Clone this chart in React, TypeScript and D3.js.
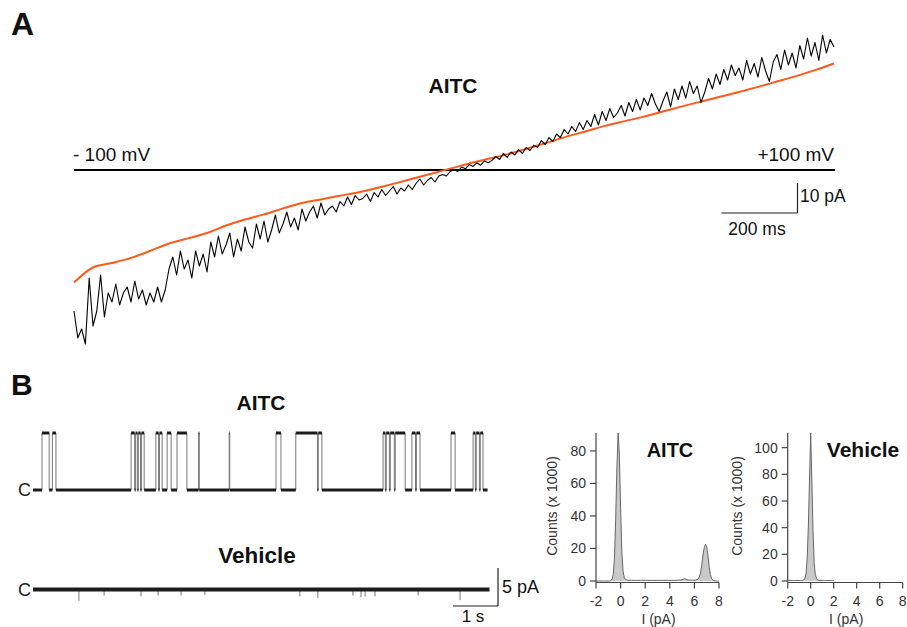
import React from "react";
import * as d3 from "d3";

// ---------- Panel A: voltage ramp (-100 to +100 mV over 2000 ms) ----------
const rampVoltage = [-100, 100];
const rampDurationMs = 2000;
// vehicle/control ramp current (pA), orange, sampled every 5 mV
const controlRampCurrent = [
  -37.5, -32.5, -31, -29.3, -27, -24.5, -22.8, -21, -18.5, -16.5,
  -14.8, -12.8, -11, -9.8, -8.6, -7.4, -5.9, -4.3, -2.6, -0.9,
  0.8, 2.5, 4.0, 5.6, 7.4, 9.3, 11.3, 13, 14.8, 16.3,
  17.8, 19.5, 21.2, 22.8, 24.4, 26, 27.7, 29.5, 31.3, 33.3, 35.5,
];
// AITC ramp current (pA), black, sampled every 1 mV from -100 to +100 mV
const aitcRampCurrent = [
  -47, -56, -53, -58, -36, -52, -47, -35, -49, -41,
  -44, -38, -45, -41, -39, -44, -37, -43, -40, -45,
  -41, -44, -39, -44, -40, -33, -29, -35, -27, -33,
  -30, -36, -27, -32, -28, -34, -24, -29, -22, -28,
  -25, -21, -29, -23, -27, -19, -24, -26, -18, -23,
  -17, -24, -20, -15, -21, -18, -14, -19, -16, -20,
  -13, -17, -14, -12, -16, -11, -15, -13, -12, -14,
  -10.5, -12, -9, -11.5, -8.5, -10, -9.5, -8, -10.5, -7.5,
  -9, -6.5, -8.5, -7, -5.5, -8, -6, -7, -5, -6.5,
  -4.5, -3, -5, -3.5, -2.5, -4, -2, -1.5, -2, -0.5,
  0.2, -0.5, 1, 0.4, 1.8, 1.2, 2.4, 1.6, 3, 2.4,
  3.2, 4.5, 3.5, 5.5, 4.2, 6, 5, 6.8, 5.5, 7.5,
  6.5, 8.2, 7.6, 9.8, 8.5, 10.8, 9.5, 12, 10.8, 13.5,
  12, 14.5, 12.8, 15.8, 13.5, 16.5, 14.5, 18.5, 15, 19.5,
  16.5, 20.5, 17.5, 19, 21.5, 18, 22.5, 19.5, 23.5, 20,
  24, 21.5, 25.5, 22, 19.5, 23, 26, 21, 27, 23.5,
  28, 24, 29.5, 25.5, 28, 22.5, 26, 30.5, 27, 32,
  28.5, 33.5, 30, 35, 31.5, 34, 30, 36.5, 32, 35.5,
  31, 37.5, 33, 29.5, 36, 38.5, 33.5, 40, 35, 39,
  34, 41.5, 37, 44, 38, 42.5, 36.5, 45, 39, 43.5,
  41,
];

// ---------- Panel B: single-channel recordings ----------
const traceDurationS = 10.1;
const openLevelPA = 7.5;
const aitcOpenIntervals: [number, number][] = [
  [0.2, 0.36], [0.43, 0.51],
  [2.18, 2.26], [2.28, 2.32], [2.34, 2.39], [2.41, 2.47],
  [2.73, 2.79], [2.81, 2.87],
  [2.98, 3.07],
  [3.2, 3.42],
  [3.68, 3.695],
  [4.36, 4.372],
  [5.4, 5.51],
  [5.84, 6.32], [6.34, 6.42],
  [7.78, 7.83], [7.85, 7.92], [7.94, 8.03], [8.05, 8.27],
  [8.42, 8.5], [8.52, 8.6],
  [9.29, 9.38],
  [9.78, 9.83], [9.85, 9.92], [9.94, 10.0],
];
const vehicleSpikeTimes = [1.02, 1.58, 2.4, 2.78, 3.29, 3.82, 5.93, 6.33, 7.11, 7.29, 7.38, 7.6, 8.56, 9.49];
const vehicleSpikeAmps = [-1.5, -0.8, -0.9, -0.8, -0.8, -0.7, -0.9, -1.1, -0.8, -1.0, -0.9, -0.9, -0.8, -1.4];

// ---------- Histograms (counts x 1000, bins of 0.1 pA starting at -2 pA) ----------
const histStart = -2;
const histBin = 0.1;
const aitcHist = [
  0, 0, 0, 0, 0, 0, 0, 0, 0, 0, 0.05,
  0.1, 0.3, 1, 4, 14, 38, 70, 91, 78,
  45, 18, 6, 2, 1, 0.6, 0.5, 0.5, 0.5, 0.5,
  0.4, 0.4, 0.4, 0.4, 0.4, 0.4, 0.4, 0.4, 0.4, 0.4,
  0.4, 0.4, 0.4, 0.4, 0.4, 0.4, 0.4, 0.4, 0.4, 0.4,
  0.4, 0.4, 0.4, 0.4, 0.4, 0.4, 0.4, 0.4, 0.4, 0.4,
  0.4, 0.4, 0.4, 0.4, 0.4, 0.4, 0.5, 0.5, 0.6, 0.6,
  0.8, 1.1, 1.4, 1.2, 0.8, 0.6, 0.5, 0.5, 0.5, 0.5,
  0.5, 0.6, 0.8, 1.2, 2.5, 5, 10, 16, 20.5, 22.5,
  21, 16, 9, 4, 1.5, 0.6, 0.2, 0.1, 0, 0,
  0,
];
const vehicleHist = [
  0.4, 0.4, 0.4, 0.4, 0.4, 0.4, 0.4, 0.4, 0.4, 0.4,
  0.4, 0.4, 0.4, 0.5, 0.8, 2, 6, 18, 42, 78,
  111, 75, 38, 14, 5, 2, 0.8, 0.5, 0.4, 0.4,
  0.4, 0.4, 0.4, 0.4, 0.4, 0.4, 0.4, 0.4, 0.4, 0.4,
  0.4,
];
const histXTicks = [-2, 0, 2, 4, 6, 8];
const aitcHistYTicks = [0, 20, 40, 60, 80];
const vehicleHistYTicks = [0, 20, 40, 60, 80, 100];

const FONT = "'Liberation Sans', Arial, Helvetica, sans-serif";

function Histogram({ data, xRange, yMax, yTop, yBottom, yTicks, title, titleX, titleSize, labelX }: any) {
  const x = d3.scaleLinear().domain([-2, 8]).range(xRange);
  const y = d3.scaleLinear().domain([0, yMax]).range([yBottom, yTop]);
  const pts = data.map((c: number, i: number) => [histStart + i * histBin, c]);
  const area = d3.area<any>().x((d) => x(d[0])).y0(y(0)).y1((d) => y(d[1]));
  const line = d3.line<any>().x((d) => x(d[0])).y((d) => y(d[1]));
  const axisY = yBottom + 1.5;
  return (
    <g>
      <path d={area(pts) || ""} fill="#c9c9c9" />
      <path d={line(pts) || ""} fill="none" stroke="#666" strokeWidth={1} />
      <line x1={xRange[0]} x2={xRange[0]} y1={yTop} y2={axisY} stroke="#444" strokeWidth={1.2} />
      <line x1={xRange[0]} x2={xRange[1]} y1={axisY} y2={axisY} stroke="#444" strokeWidth={1.2} />
      {yTicks.map((t: number) => (
        <g key={"y" + t}>
          <line x1={xRange[0] - 6} x2={xRange[0]} y1={y(t)} y2={y(t)} stroke="#444" strokeWidth={1.2} />
          <text x={xRange[0] - 10} y={y(t)} dominantBaseline="central" textAnchor="end" fontSize={14} fontFamily={FONT} fill="#333">
            {t}
          </text>
        </g>
      ))}
      {histXTicks.map((t) => (
        <g key={"x" + t}>
          <line x1={x(t)} x2={x(t)} y1={axisY} y2={axisY + 6} stroke="#444" strokeWidth={1.2} />
          <text x={x(t)} y={606} textAnchor="middle" fontSize={14} fontFamily={FONT} fill="#333">
            {t}
          </text>
        </g>
      ))}
      <text x={(xRange[0] + xRange[1]) / 2 + 1} y={624} textAnchor="middle" fontSize={14} fontFamily={FONT} fill="#333">
        I (pA)
      </text>
      <text
        transform={`translate(${labelX},506) rotate(-90)`}
        textAnchor="middle"
        dominantBaseline="central"
        fontSize={14}
        fontFamily={FONT}
        fill="#333"
      >
        Counts (x 1000)
      </text>
      <text x={titleX} y={457} textAnchor="middle" fontSize={titleSize} fontWeight="bold" fontFamily={FONT} fill="#111">
        {title}
      </text>
    </g>
  );
}

export default function App() {
  // Panel A scales
  const xV = d3.scaleLinear().domain(rampVoltage).range([74, 834]);
  const yI = d3.scaleLinear().domain([0, 10]).range([170, 140]);
  const msPerPx = rampDurationMs / (xV.range()[1] - xV.range()[0]);
  const idxV = (n: number) => d3.scaleLinear().domain([0, n - 1]).range(rampVoltage);
  const vCtl = idxV(controlRampCurrent.length);
  const vAitc = idxV(aitcRampCurrent.length);
  const ctlLine = d3
    .line<number>()
    .x((_, i) => xV(vCtl(i)))
    .y((d) => yI(d))
    .curve(d3.curveMonotoneX);
  const aitcLine = d3
    .line<number>()
    .x((_, i) => xV(vAitc(i)))
    .y((d) => yI(d));

  const barA_x = 797.5;
  const barA_y = 213;
  const barA_len = 200 / msPerPx;
  const barA_h = yI(0) - yI(10);

  // Panel B scales
  const xT = d3.scaleLinear().domain([0, traceDurationS]).range([33, 33 + 45 * traceDurationS]);
  const pxPerPA = 7.6;
  const yAitc = d3.scaleLinear().domain([0, openLevelPA]).range([490, 490 - openLevelPA * pxPerPA]);
  const yVeh = d3.scaleLinear().domain([0, 1]).range([589.5, 589.5 - pxPerPA]);

  const stepPts: [number, number][] = [[0, 0]];
  aitcOpenIntervals.forEach(([a, b]) => {
    stepPts.push([a, 0], [a, openLevelPA], [b, openLevelPA], [b, 0]);
  });
  stepPts.push([traceDurationS, 0]);
  const stepLine = d3.line<[number, number]>().x((d) => xT(d[0])).y((d) => yAitc(d[1]));

  const closedSegs: [number, number][] = [];
  let prev = 0;
  aitcOpenIntervals.forEach(([a, b]) => {
    closedSegs.push([prev, a]);
    prev = b;
  });
  closedSegs.push([prev, traceDurationS]);

  const barB_x = 498;
  const barB_y = 606;

  return (
    <div style={{ position: "absolute", left: 0, top: 0 }}>
      <svg width={907} height={627} style={{ display: "block", background: "#fff" }}>
        {/* Panel A */}
        <text x={11} y={35} fontSize={32} fontWeight="bold" fontFamily={FONT} fill="#111">A</text>
        <text x={453} y={93} textAnchor="middle" fontSize={21} fontWeight="bold" fontFamily={FONT} fill="#111">AITC</text>
        <text x={73} y={161} fontSize={19} fontFamily={FONT} fill="#111">- 100 mV</text>
        <text x={834} y={161} textAnchor="end" fontSize={19} fontFamily={FONT} fill="#111">+100 mV</text>
        <line x1={74} x2={835} y1={yI(0)} y2={yI(0)} stroke="#000" strokeWidth={2} />
        <path d={ctlLine(controlRampCurrent) || ""} fill="none" stroke="#ff5a1c" strokeWidth={2} />
        <path d={aitcLine(aitcRampCurrent) || ""} fill="none" stroke="#000" strokeWidth={1.1} strokeLinejoin="round" />
        <line x1={barA_x} x2={barA_x} y1={barA_y - barA_h} y2={barA_y} stroke="#222" strokeWidth={1.2} />
        <line x1={barA_x - barA_len} x2={barA_x} y1={barA_y} y2={barA_y} stroke="#222" strokeWidth={1.2} />
        <text x={800} y={202} fontSize={17.5} fontFamily={FONT} fill="#111">10 pA</text>
        <text x={757} y={235} textAnchor="middle" fontSize={17.5} fontFamily={FONT} fill="#111">200 ms</text>

        {/* Panel B */}
        <text x={11} y={395} fontSize={30} fontWeight="bold" fontFamily={FONT} fill="#111">B</text>
        <text x={261} y={410} textAnchor="middle" fontSize={21} fontWeight="bold" fontFamily={FONT} fill="#111">AITC</text>
        <text x={257} y={563} textAnchor="middle" fontSize={22.5} fontWeight="bold" fontFamily={FONT} fill="#111">Vehicle</text>
        <text x={31} y={yAitc(0)} textAnchor="end" dominantBaseline="central" fontSize={18} fontFamily={FONT} fill="#222">C</text>
        <text x={31} y={yVeh(0)} textAnchor="end" dominantBaseline="central" fontSize={18} fontFamily={FONT} fill="#222">C</text>

        <path d={stepLine(stepPts) || ""} fill="none" stroke="#777" strokeWidth={1} />
        {closedSegs.map(([a, b], i) => (
          <line key={"c" + i} x1={xT(a)} x2={xT(b)} y1={yAitc(0)} y2={yAitc(0)} stroke="#1c1c1c" strokeWidth={3} />
        ))}
        {aitcOpenIntervals.map(([a, b], i) => (
          <line key={"o" + i} x1={xT(a)} x2={xT(b)} y1={yAitc(openLevelPA)} y2={yAitc(openLevelPA)} stroke="#1c1c1c" strokeWidth={3} />
        ))}

        {vehicleSpikeTimes.map((t, i) => (
          <line key={"s" + i} x1={xT(t)} x2={xT(t)} y1={yVeh(0)} y2={yVeh(vehicleSpikeAmps[i])} stroke="#777" strokeWidth={1} />
        ))}
        <line x1={xT(0)} x2={xT(traceDurationS) + 2} y1={yVeh(0)} y2={yVeh(0)} stroke="#1c1c1c" strokeWidth={4} />

        <line x1={barB_x} x2={barB_x} y1={barB_y - 5 * pxPerPA} y2={barB_y} stroke="#222" strokeWidth={1.2} />
        <line x1={barB_x - (xT(1) - xT(0))} x2={barB_x} y1={barB_y} y2={barB_y} stroke="#222" strokeWidth={1.2} />
        <text x={502} y={593} fontSize={18} fontFamily={FONT} fill="#111">5 pA</text>
        <text x={473} y={622} textAnchor="middle" fontSize={17} fontFamily={FONT} fill="#111">1 s</text>

        <Histogram data={aitcHist} xRange={[596, 719]} yMax={91} yTop={433} yBottom={581} yTicks={aitcHistYTicks} title="AITC" titleX={670} titleSize={20} labelX={552} />
        <Histogram data={vehicleHist} xRange={[787.7, 902.7]} yMax={111} yTop={433} yBottom={581} yTicks={vehicleHistYTicks} title="Vehicle" titleX={863} titleSize={21} labelX={737} />
      </svg>
    </div>
  );
}
